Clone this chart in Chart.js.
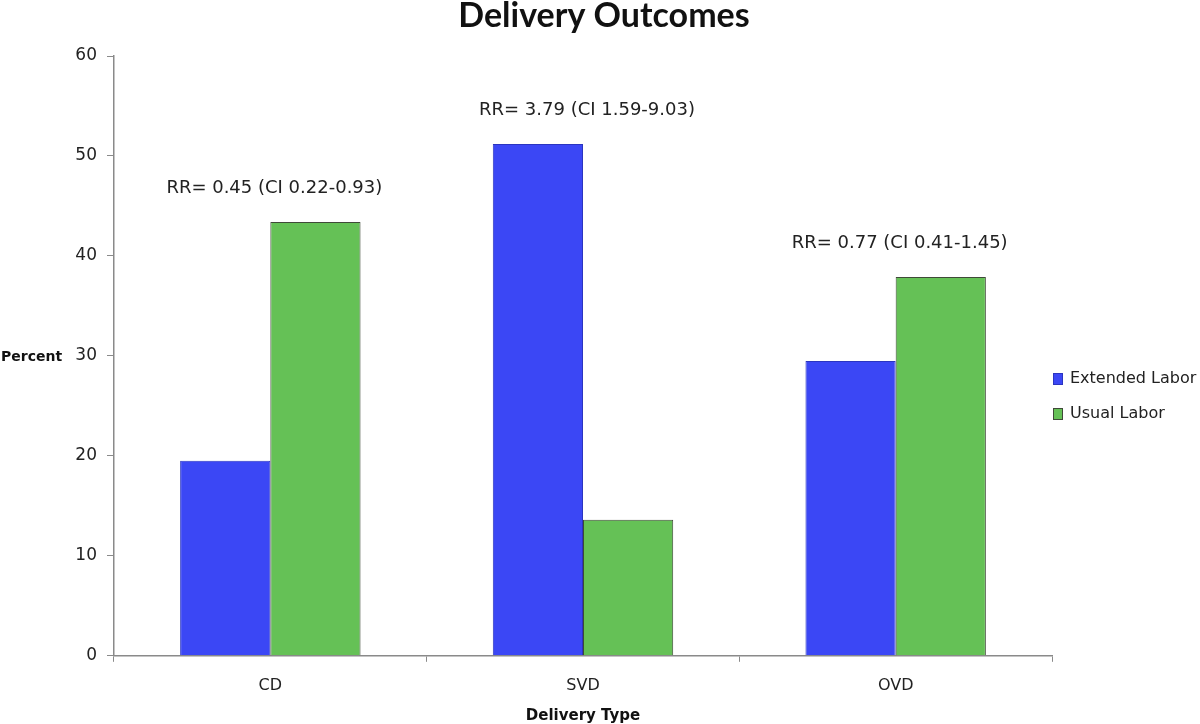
<!DOCTYPE html>
<html>
<head>
<meta charset="utf-8">
<script src="https://cdn.jsdelivr.net/npm/chart.js@4/dist/chart.umd.min.js"></script>
<style>
  html, body { margin: 0; padding: 0; background: #fff; }
  #wrap { width: 1200px; height: 724px; }
</style>
</head>
<body>
<div id="wrap"><canvas id="outcomeChart" width="1200" height="724"></canvas></div>
<script>
// data
const deliveryTypes = ['CD', 'SVD', 'OVD'];
const extendedLabor = [19.5, 51.2, 29.5];
const usualLabor = [43.4, 13.6, 37.9];
const rrLabels = ['RR= 0.45 (CI 0.22-0.93)', 'RR= 3.79 (CI 1.59-9.03)', 'RR= 0.77 (CI 0.41-1.45)'];
const chartTitle = 'Delivery Outcomes';

// title over the whole canvas, RR text above each group, the legend and the flat "Percent" label
const extrasPlugin = {
  id: 'extras',
  afterDatasetsDraw(chart) {
    const ctx = chart.ctx;
    const x = chart.scales.x, y = chart.scales.y;
    ctx.save();
    ctx.textBaseline = 'middle';

    ctx.font = 'bold 34px Lato';
    ctx.fillStyle = '#111';
    ctx.textAlign = 'center';
    ctx.fillText(chartTitle, chart.width / 2 + 4, 16);

    ctx.font = '18px "DejaVu Sans"';
    ctx.fillStyle = '#222';
    deliveryTypes.forEach(function(cat, i) {
      const top = Math.max(extendedLabor[i], usualLabor[i]);
      ctx.fillText(rrLabels[i], x.getPixelForValue(i) + 4, y.getPixelForValue(top) - 34);
    });

    // y title, drawn flat like the original
    ctx.font = 'bold 14px "DejaVu Sans"';
    ctx.textAlign = 'left';
    ctx.fillStyle = '#111';
    ctx.fillText('Percent', 1, (chart.chartArea.top + chart.chartArea.bottom) / 2 + 1);

    // legend
    ctx.font = '16px "DejaVu Sans"';
    chart.data.datasets.forEach(function(ds, i) {
      const ly = 379 + i * 35;
      ctx.fillStyle = ds.backgroundColor;
      ctx.fillRect(1053, ly - 6, 10, 12);
      ctx.strokeStyle = ds.borderColor;
      ctx.lineWidth = 1;
      ctx.strokeRect(1053.5, ly - 5.5, 9, 11);
      ctx.fillStyle = '#222';
      ctx.fillText(ds.label, 1070, ly);
    });
    ctx.restore();
  }
};

new Chart(document.getElementById('outcomeChart'), {
  type: 'bar',
  data: {
    labels: deliveryTypes,
    datasets: [{
      label: 'Extended Labor',
      data: extendedLabor,
      backgroundColor: '#3b47f5',
      borderColor: '#2b35c0',
      borderWidth: 1
    }, {
      label: 'Usual Labor',
      data: usualLabor,
      backgroundColor: '#65c156',
      borderColor: '#3f4a38',
      borderWidth: 1
    }]
  },
  options: {
    responsive: false,
    animation: false,
    categoryPercentage: 0.577,
    barPercentage: 1.0,
    layout: { padding: { left: 0, right: 148, top: 56, bottom: 0 } },
    plugins: {
      legend: { display: false },
      tooltip: { enabled: false },
      title: { display: false }
    },
    scales: {
      x: {
        grid: { drawOnChartArea: false, drawTicks: true, tickLength: 6, color: '#8a8a8a' },
        border: { color: '#8a8a8a', width: 1.5 },
        ticks: { color: '#222', font: { family: 'DejaVu Sans', size: 16 }, padding: 14 },
        title: {
          display: true,
          text: 'Delivery Type',
          color: '#111',
          font: { family: 'DejaVu Sans', weight: 'bold', size: 15, lineHeight: 1.0 },
          padding: { top: 0, bottom: 0 }
        }
      },
      y: {
        min: 0,
        max: 60,
        afterFit: function(scale) { scale.width = 114; },
        grid: { drawOnChartArea: false, drawTicks: true, tickLength: 7, color: '#8a8a8a' },
        border: { color: '#8a8a8a', width: 1.5 },
        ticks: { stepSize: 10, color: '#222', font: { family: 'DejaVu Sans', size: 17 }, padding: 10 }
      }
    }
  },
  plugins: [extrasPlugin]
});
</script>
</body>
</html>
